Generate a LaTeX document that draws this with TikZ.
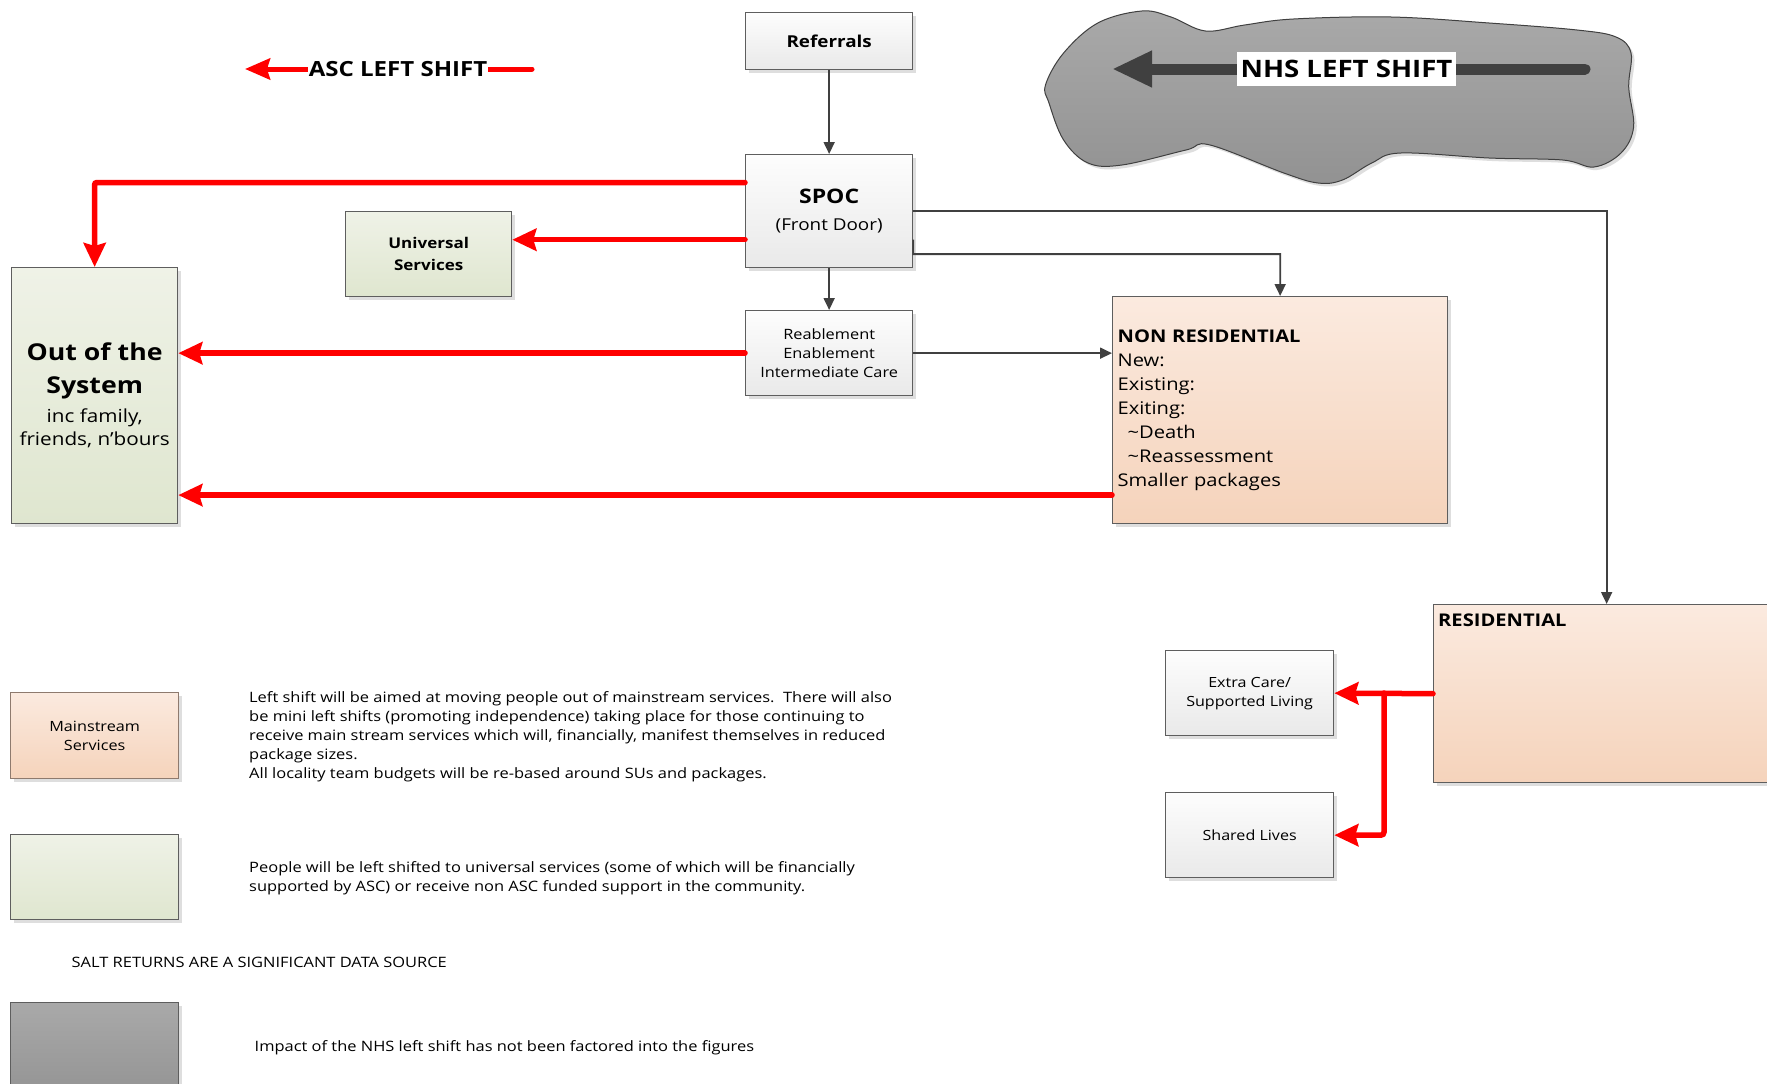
\documentclass[tikz,border=0pt]{standalone}
\usepackage{fontspec}
\setmainfont{Open Sans}[FakeStretch=1.15]
\usetikzlibrary{arrows.meta,shadows,calc}
\definecolor{lineg}{HTML}{5E5E5E}
\definecolor{conn}{HTML}{404040}
\definecolor{gtop}{HTML}{FDFDFD}
\definecolor{gbot}{HTML}{E9E9E9}
\definecolor{vtop}{HTML}{EFF2E7}
\definecolor{vbot}{HTML}{DFE6CF}
\definecolor{otop}{HTML}{FBEADF}
\definecolor{obot}{HTML}{F5D3BB}
\definecolor{ctop}{HTML}{A9A9A9}
\definecolor{cbot}{HTML}{929292}
\definecolor{mainline}{HTML}{8E7A6E}
\definecolor{redline}{HTML}{FF0000}
\tikzset{
  shad/.style={drop shadow={shadow xshift=3pt,shadow yshift=-3pt,fill=black!13,opacity=1}},
  basebox/.style={draw=lineg,line width=1.3pt,inner sep=0pt,anchor=north west,align=center,shad},
  graybox/.style={basebox,top color=gtop,bottom color=gbot},
  greenbox/.style={basebox,top color=vtop,bottom color=vbot},
  orangebox/.style={basebox,top color=otop,bottom color=obot},
  darkbox/.style={basebox,top color=ctop,bottom color=cbot},
  conarrow/.style={draw=conn,line width=1.8pt,-{Triangle[length=12pt,width=11pt]}},
  redarrow/.style={draw=redline,line width=5.5pt,line cap=round,-{Stealth[length=24pt,width=22pt,inset=3pt]}},
  legtext/.style={anchor=west,inner sep=0pt,align=left,font=\fontsize{14.3}{19}\selectfont},
}
\newcommand{\smallline}[1]{{\fontsize{18}{23.6}\selectfont\mdseries #1}}
\begin{document}
\begin{tikzpicture}[x=1pt,y=-1pt]
\useasboundingbox[fill=white] (0,0) rectangle (1767,1084);

% NHS cloud
\path[draw=conn,line width=1pt,top color=ctop,bottom color=cbot,shad]
  plot[smooth cycle,tension=0.6] coordinates {(1045.5,85) (1063.6,53) (1097.8,23) (1141.9,11) (1171,17) (1205.5,31) (1244.6,25) (1293.5,19) (1391,17) (1489,23) (1577,30) (1616,37) (1631,53) (1628.7,87) (1633.6,127) (1621,153) (1594,167) (1562.6,160) (1489,158) (1401,153) (1371.8,163) (1342.5,180) (1318,183) (1283.8,173) (1210,145) (1186,150) (1122,165) (1088,163) (1063.6,140) (1049,103)};
\coordinate (nhsS) at (1585,69);
\coordinate (nhsE) at (1112,69);
\draw[draw=conn,line width=11pt,line cap=round,-{Triangle[length=40pt,width=34pt]}] (nhsS) -- (nhsE);
\node[fill=white,minimum width=219pt,minimum height=34pt,inner sep=0pt,font=\fontsize{24}{28}\selectfont\bfseries] (nhs) at (1346.5,69) {NHS LEFT SHIFT};

% ASC left shift
\coordinate (ascS) at (532,69);
\coordinate (ascE) at (245,69);
\draw[draw=redline,line width=5pt,line cap=round,-{Stealth[length=25pt,width=21pt,inset=3pt]}] (ascS) -- (ascE);
\node[fill=white,inner sep=1pt,font=\fontsize{20.9}{24}\selectfont\bfseries] (asc) at (398,69) {ASC LEFT SHIFT};

% main boxes
\node[graybox,minimum width=167pt,minimum height=57pt,font=\fontsize{16.4}{20}\selectfont\bfseries] (ref) at (745,12) {Referrals};
\node[graybox,minimum width=167pt,minimum height=113pt,font=\fontsize{20}{24}\selectfont\bfseries] (spoc) at (745,154)
  {\raisebox{-3pt}{SPOC}\\[6pt]{\fontsize{16.4}{20}\selectfont\mdseries (Front Door)}};
\node[greenbox,minimum width=166pt,minimum height=85pt,font=\fontsize{14.8}{22.5}\selectfont\bfseries] (univ) at (345,211) {Universal\\Services};
\node[greenbox,minimum width=166pt,minimum height=256pt,font=\fontsize{23.2}{32.7}\selectfont\bfseries] (out) at (11,267)
  {Out of the\\System\\[-4pt]\smallline{inc family,}\\[-9pt]\smallline{friends, n’bours}};
\node[graybox,minimum width=167pt,minimum height=85pt,font=\fontsize{14.2}{19.3}\selectfont] (reab) at (745,310) {Reablement\\Enablement\\Intermediate Care};
\node[orangebox,minimum width=335pt,minimum height=227pt,align=left,text width=325pt,inner xsep=5pt,font=\fontsize{17.5}{24}\selectfont] (nonres) at (1112,296)
  {\textbf{NON RESIDENTIAL}\\New:\\Existing:\\Exiting:\\\hspace*{10pt}\textasciitilde Death\\\hspace*{10pt}\textasciitilde Reassessment\\Smaller packages};
\node[orangebox,minimum width=346pt,minimum height=178pt] (res) at (1433,604) {};
\node[anchor=west,inner sep=0pt,font=\fontsize{17.5}{24}\selectfont\bfseries] (reslabel) at (1438,620) {RESIDENTIAL};
\node[graybox,minimum width=168pt,minimum height=85pt,font=\fontsize{14}{19}\selectfont] (extra) at (1165,650) {Extra Care/\\Supported Living};
\node[graybox,minimum width=168pt,minimum height=85pt,font=\fontsize{14}{19}\selectfont] (shared) at (1165,792) {Shared Lives};

% legend
\node[orangebox,draw=mainline,minimum width=168pt,minimum height=86pt,font=\fontsize{14.1}{19}\selectfont] (lmain) at (10,692) {Mainstream\\Services};
\node[greenbox,minimum width=168pt,minimum height=85pt] (lgreen) at (10,834) {};
\node[darkbox,minimum width=168pt,minimum height=100pt] (lgray) at (10,1002) {};
\node[legtext] (t1) at (249,737) {Left shift will be aimed at moving people out of mainstream services.\ \ There will also\\be mini left shifts (promoting independence) taking place for those continuing to\\receive main stream services which will, financially, manifest themselves in reduced\\package sizes.\\All locality team budgets will be re-based around SUs and packages.};
\node[legtext] (t2) at (249,878) {People will be left shifted to universal services (some of which will be financially\\supported by ASC) or receive non ASC funded support in the community.};
\node[legtext] (t3) at (71.5,962) {SALT RETURNS ARE A SIGNIFICANT DATA SOURCE};
\node[legtext] (t4) at (254.5,1048) {Impact of the NHS left shift has not been factored into the figures};

% dark connectors
\draw[conarrow] (ref.south) -- (spoc.north);
\draw[conarrow] (spoc.south) -- (reab.north);
\draw[conarrow] (reab.east) -- (nonres.west |- reab.east);
\draw[conarrow] (spoc.east) -| (res.north);
\coordinate (spocA) at ($(spoc.north east)!0.75!(spoc.south east)$);
\coordinate (spocB) at ($(spoc.north east)!0.876!(spoc.south east)$);
\draw[conarrow] (spocA) -- (spocB) -| (nonres.north);

% red arrows
\coordinate (spocR1) at ($(spoc.north west)!0.25!(spoc.south west)$);
\coordinate (spocR2) at ($(spoc.north west)!0.75!(spoc.south west)$);
\draw[redarrow,rounded corners=2pt] (spocR1) -| (out.north);
\draw[redarrow] (spocR2) -- (univ.east |- spocR2);
\draw[redarrow] (reab.west) -- (out.east |- reab.west);
\coordinate (nonresR) at ($(nonres.north west)!0.872!(nonres.south west)$);
\draw[redarrow] (nonresR) -- (out.east |- nonresR);
\coordinate (branch) at (1384,693);
\draw[redarrow] (res.west) -- (extra.east);
\draw[redarrow,rounded corners=3pt] (branch) |- (shared.east);
\end{tikzpicture}
\end{document}
